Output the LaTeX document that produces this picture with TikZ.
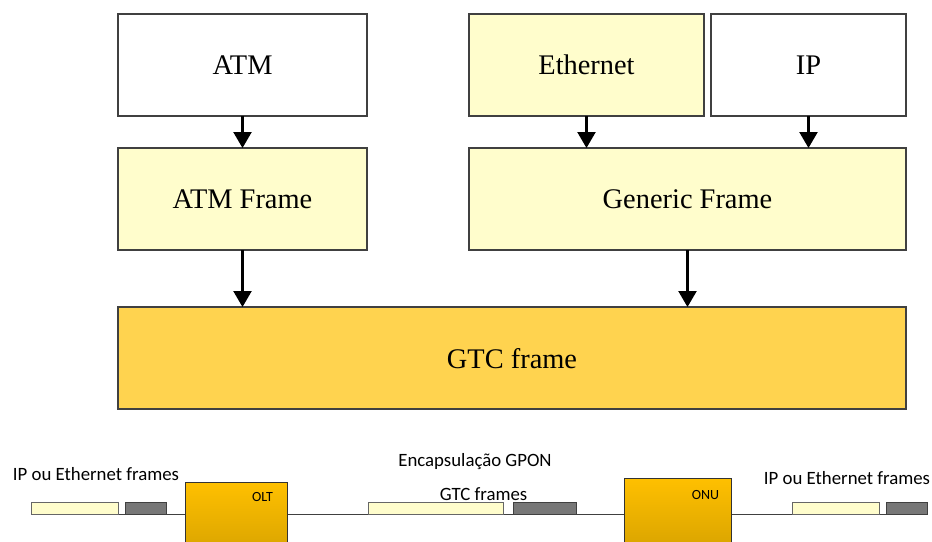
\documentclass[tikz,border=0pt]{standalone}
\usepackage{fontspec}
\setmainfont{Liberation Serif}
\newfontfamily\calibri{Carlito}
\usetikzlibrary{arrows.meta,backgrounds}
\definecolor{lightyel}{HTML}{FFFDCC}
\definecolor{gtcfill}{HTML}{FFD34F}
\definecolor{oltTop}{HTML}{FFC000}
\definecolor{oltBot}{HTML}{D4A000}
\definecolor{frgray}{HTML}{777777}
\definecolor{edgec}{HTML}{404040}
\begin{document}
\begin{tikzpicture}[x=1pt,y=-1pt,
  bigbox/.style={draw=edgec, line width=1.1pt, rectangle, inner sep=0pt, outer sep=0pt,
    minimum height=102pt, font=\fontsize{28.4}{31}\selectfont, text depth=0pt},
  flow/.style={line width=2.3pt, -{Triangle[length=16pt,width=18pt]}},
  yframe/.style={draw=edgec!80, fill=lightyel, line width=0.9pt, rectangle, inner sep=0pt, outer sep=0pt, minimum height=12pt, anchor=south west},
  gframe/.style={draw=edgec, fill=frgray, line width=0.9pt, rectangle, inner sep=0pt, outer sep=0pt, minimum height=12pt, anchor=south west},
  equip/.style={draw=black!80, line width=0.9pt, top color=oltTop, bottom color=oltBot, rectangle, inner sep=0pt, outer sep=0pt, minimum height=80pt, anchor=north west},
  smalltxt/.style={font=\calibri\fontsize{14}{16}\selectfont, anchor=base, inner sep=0pt},
  lbltxt/.style={font=\calibri\fontsize{18.8}{21}\selectfont, anchor=base, inner sep=0pt}]
\useasboundingbox (0,0) rectangle (932,541);
\clip (0,0) rectangle (932,541);

% upper diagram
\node[bigbox, fill=white, minimum width=249pt] (atm) at (242.5,65) {ATM};
\node[bigbox, fill=lightyel, minimum width=249pt] (atmf) at (242.5,199) {ATM Frame};
\node[bigbox, fill=lightyel, minimum width=235pt] (eth) at (586.5,65) {Ethernet};
\node[bigbox, fill=white, minimum width=195pt] (ip) at (808.5,65) {IP};
\node[bigbox, fill=lightyel, minimum width=437pt] (gen) at (687.5,199) {Generic Frame};
\node[bigbox, fill=gtcfill, minimum width=788pt] (gtc) at (512,358) {GTC frame};

\draw[flow] (atm.south) -- (atmf.north);
\draw[flow] (eth.south) -- (eth.south |- gen.north);
\draw[flow] (ip.south) -- (ip.south |- gen.north);
\draw[flow] (atmf.south) -- (atmf.south |- gtc.north);
\draw[flow] (gen.south) -- (gen.south |- gtc.north);

% lower diagram
\node[yframe, minimum width=87pt] (ly) at (31,514) {};
\node[gframe, minimum width=41pt] (lg) at (125,514) {};
\node[equip, minimum width=102pt] (olt) at (185,482) {};
\node[yframe, minimum width=135pt] (my) at (368,514) {};
\node[gframe, minimum width=63pt] (mg) at (513,514) {};
\node[equip, minimum width=107pt] (onu) at (624,478) {};
\node[yframe, minimum width=87pt] (ry) at (792,514) {};
\node[gframe, minimum width=41pt] (rg) at (886,514) {};

\begin{pgfonlayer}{background}
\draw[edgec, line width=1pt] (ly.south west) -- (rg.south east);
\end{pgfonlayer}

\node[smalltxt] (oltl) at (262.5,501.7) {OLT};
\node[smalltxt] (onul) at (705.5,499) {ONU};
\node[lbltxt] (lt) at (96,480) {IP ou Ethernet frames};
\node[lbltxt] (rt) at (847,484) {IP ou Ethernet frames};
\node[lbltxt] (enc) at (475,466.7) {Encapsulação GPON};
\node[lbltxt] (gtcf) at (483.5,500.7) {GTC frames};
\end{tikzpicture}
\end{document}
